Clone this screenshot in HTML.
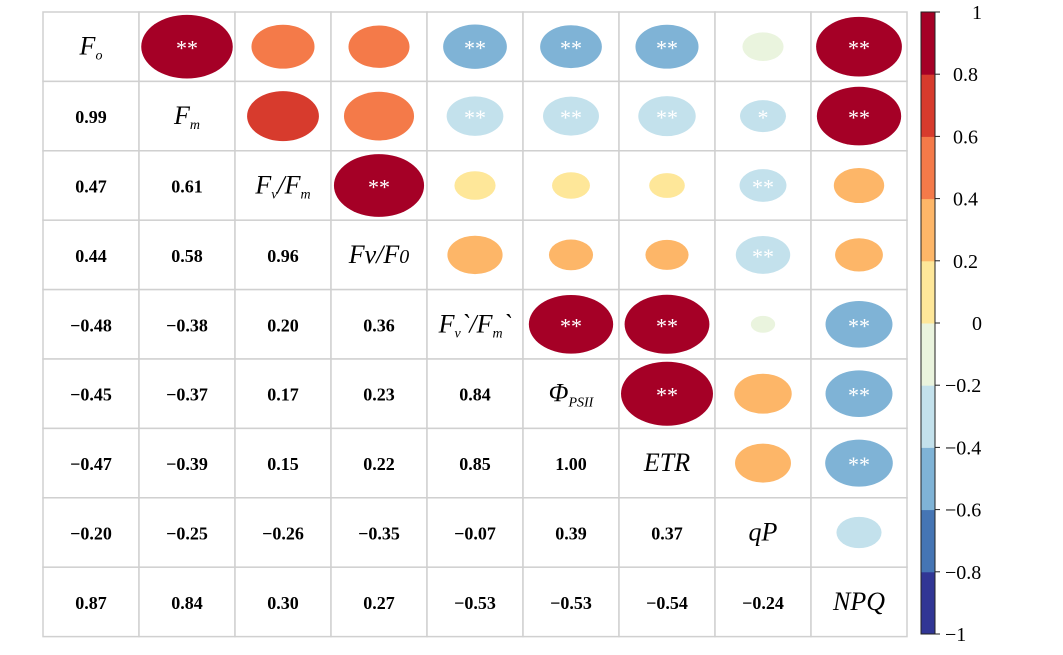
<!DOCTYPE html>
<html><head><meta charset="utf-8"><style>
body{margin:0;background:#fff;width:1063px;height:650px;overflow:hidden}
svg text{font-family:"Liberation Serif",serif}
</style></head><body>
<svg id="c" width="1063" height="650"></svg>
<script>
const labels=["F<tspan font-size='14' dy='5'>o</tspan>","F<tspan font-size='14' dy='5'>m</tspan>","F<tspan font-size='14' dy='5'>v</tspan><tspan dy='-5'>/F</tspan><tspan font-size='14' dy='5'>m</tspan>","Fv/F<tspan font-size='20'>0</tspan>","F<tspan font-size='14' dy='5'>v</tspan><tspan dy='-5'>`/F</tspan><tspan font-size='14' dy='5'>m</tspan><tspan dy='-5'>`</tspan>","Φ<tspan font-size='14' dy='5'>PSII</tspan>","ETR","qP","NPQ"];
const corr=[
[1,0.99,0.47,0.44,-0.48,-0.45,-0.47,-0.20,0.87],
[0.99,1,0.61,0.58,-0.38,-0.37,-0.39,-0.25,0.84],
[0.47,0.61,1,0.96,0.20,0.17,0.15,-0.26,0.30],
[0.44,0.58,0.96,1,0.36,0.23,0.22,-0.35,0.27],
[-0.48,-0.38,0.20,0.36,1,0.84,0.85,-0.07,-0.53],
[-0.45,-0.37,0.17,0.23,0.84,1,1.00,0.39,-0.53],
[-0.47,-0.39,0.15,0.22,0.85,1.00,1,0.37,-0.54],
[-0.20,-0.25,-0.26,-0.35,-0.07,0.39,0.37,1,-0.24],
[0.87,0.84,0.30,0.27,-0.53,-0.53,-0.54,-0.24,1]];
const sig=[
["","**","","","**","**","**","","**"],
["","","","","**","**","**","*","**"],
["","","","**","","","","**",""],
["","","","","","","","**",""],
["","","","","","**","**","","**"],
["","","","","","","**","","**"],
["","","","","","","","","**"],
["","","","","","","","",""],
["","","","","","","","",""]];
const barTicks=[1,0.8,0.6,0.4,0.2,0,-0.2,-0.4,-0.6,-0.8,-1];
const palette=["#313695","#4575b4","#7fb3d6","#c3e1ec","#eaf4de","#fee799","#fdb668","#f47a49","#d73b2d","#a50026"];
const NS="http://www.w3.org/2000/svg",svg=document.getElementById('c');
const X0=43,Y0=12,CW=96,CH=69.4;
const cx=j=>X0+CW*(j+0.5),cy=i=>Y0+CH*(i+0.5);
function col(v){let k=Math.floor((v+1)/0.2);if(v>=0.2&&v<0.2001)k=5;return palette[Math.max(0,Math.min(9,k))];}
function mk(t,a,p){const e=document.createElementNS(NS,t);for(const k in a)e.setAttribute(k,a[k]);(p||svg).appendChild(e);return e;}
const n=corr.length;
for(let i=0;i<n;i++)for(let j=0;j<n;j++){
 const c=mk('rect',{x:X0+CW*j,y:Y0+CH*i,width:CW,height:CH,fill:'#fff',stroke:'#d0d0d0','stroke-width':1.5});
 
 
}
for(let i=0;i<n;i++)for(let j=0;j<n;j++){
 const v=corr[i][j];
 if(i===j){
  const t=mk('text',{x:cx(j),y:cy(i)+8,'font-size':26,'font-style':'italic','text-anchor':'middle'});t.innerHTML=labels[i];
  
  
 }else if(j>i){
  const s=Math.sqrt(Math.abs(v));
  const e=mk('ellipse',{cx:cx(j),cy:cy(i),rx:46*s,ry:32*s,fill:col(v)});
  
  
  if(sig[i][j]){const t=mk('text',{x:cx(j),y:cy(i)+9,'font-size':22,fill:'#fff','text-anchor':'middle','font-family':'Liberation Sans,sans-serif'});t.textContent=sig[i][j];
  
  }
 }else{
  const t=mk('text',{x:cx(j),y:cy(i)+7,'font-size':18,'font-weight':'bold','text-anchor':'middle'});
  t.textContent=v.toFixed(2).replace('-','−');
  
  
 }
}
const BT=12,BB=634,BX=921,BW=14;
const by=v=>BT+(1-v)/2*(BB-BT);
for(let k=0;k<10;k++){
 const lo=-1+k*0.2,hi=lo+0.2;
 const r=mk('rect',{x:BX,y:by(hi),width:BW,height:by(lo)-by(hi)+0.5,fill:palette[k]});
 
 
}
mk('rect',{x:BX,y:BT,width:BW,height:BB-BT,fill:'none',stroke:'#222','stroke-width':1});
barTicks.forEach(v=>{
 const l=mk('line',{x1:BX+BW,x2:BX+BW+5,y1:by(v),y2:by(v),stroke:'#222'});
 
 
 const t=mk('text',{x:v<0?945:(v===0||v===1?972:953),y:by(v)+7,'font-size':20});
 t.textContent=String(v).replace('-','−');
 
 
});
</script>
</body></html>
